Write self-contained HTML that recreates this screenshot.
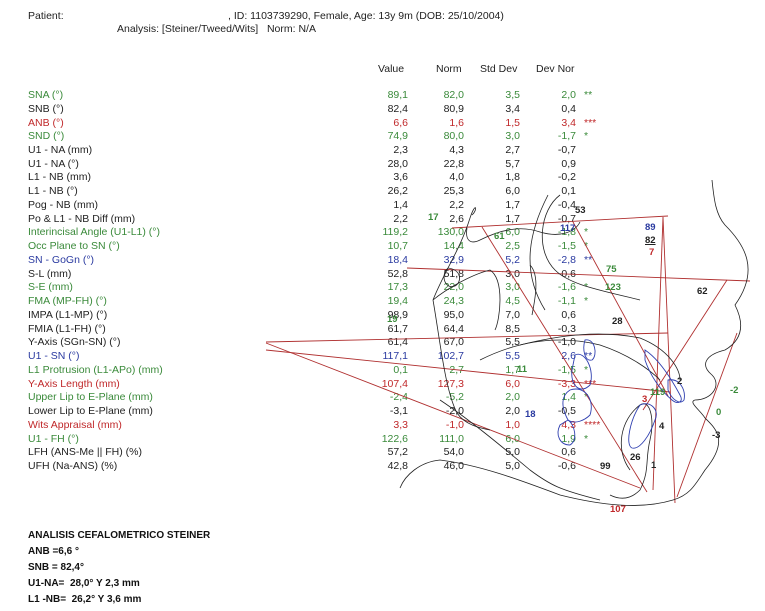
<!DOCTYPE html>
<html><head><meta charset="utf-8"><style>
body{margin:0;width:765px;height:611px;background:#fff;position:relative;overflow:hidden;font-family:"Liberation Sans","DejaVu Sans",sans-serif;font-size:10.5px;color:#222}
.t{position:absolute;white-space:nowrap;line-height:12px}
.r{position:absolute;white-space:nowrap;line-height:12px;text-align:right;width:50px}
.g{color:#3a8a3a}.rd{color:#c0282a}.b{color:#2a3aa0}
.bold{font-weight:bold;font-size:10px;color:#111}
svg{position:absolute;left:0;top:0}
</style></head><body>
<div class="t" style="left:28px;top:10px">Patient:</div>
<div class="t" style="left:228px;top:10px">, ID: 1103739290, Female, Age: 13y 9m (DOB: 25/10/2004)</div>
<div class="t" style="left:117px;top:23px">Analysis: [Steiner/Tweed/Wits]&nbsp;&nbsp;&nbsp;Norm: N/A</div>
<div class="t" style="left:378px;top:63px">Value</div>
<div class="t" style="left:436px;top:63px">Norm</div>
<div class="t" style="left:480px;top:63px">Std Dev</div>
<div class="t" style="left:536px;top:63px">Dev Nor</div>
<div id="rows"></div>
<svg width="765" height="611" viewBox="0 0 765 611" fill="none">
<g stroke="#b03030" stroke-width="0.9">
<line x1="452" y1="228" x2="668" y2="216"/>
<line x1="407" y1="268" x2="750" y2="281"/>
<line x1="266" y1="342" x2="668" y2="333"/>
<line x1="266" y1="350" x2="670" y2="392"/>
<line x1="266" y1="343" x2="640" y2="488"/>
<line x1="482" y1="227" x2="647" y2="492"/>
<line x1="663" y1="217" x2="653" y2="490"/>
<line x1="663" y1="217" x2="675" y2="503"/>
<line x1="573" y1="222" x2="668" y2="396"/>
<line x1="737" y1="333" x2="677" y2="497"/>
<line x1="727" y1="280" x2="643" y2="410"/>
</g>
<g stroke="#222" stroke-width="0.8">
<path d="M712 180 C714 200 716 215 725 225 C745 245 760 270 735 305 C745 325 742 340 725 350 C705 355 700 365 712 375 C722 385 712 400 695 400 C688 402 700 410 705 418 C715 428 730 440 705 470 C695 485 690 495 673 500 C640 510 600 505 560 495 C520 480 480 465 440 460 C420 462 405 475 400 488"/>
<path d="M630 470 C615 450 620 420 640 405 C650 398 655 420 650 440 C645 460 650 470 640 490 C630 500 620 500 610 495"/>
<path d="M560 195 C540 210 535 250 555 270 C570 285 600 290 640 300"/>
<path d="M548 195 C530 230 520 270 545 310"/>
<path d="M472 215 C478 210 476 200 470 218 C460 250 445 270 433 300 C445 290 470 275 490 270"/>
<path d="M433 300 C440 340 445 390 457 413 C465 425 480 428 490 430"/>
<path d="M448 268 C440 275 445 290 455 286 C462 282 462 270 448 268"/>
<path d="M467 228 C465 240 470 245 480 240 C500 230 520 225 540 232 C560 238 575 232 580 222"/>
<path d="M520 345 C560 335 600 330 640 338 C670 350 680 370 680 380"/>
<path d="M530 265 C540 275 535 300 532 315"/>
<path d="M490 270 C505 280 500 320 495 330"/>
<path d="M440 400 C470 420 500 445 530 470 C550 485 560 490 600 500"/>
<path d="M480 360 C520 340 560 335 600 345 C630 355 650 370 660 380"/>
</g>
<g stroke="#3040b0" stroke-width="0.9">
<path d="M645 350 C660 360 672 380 680 395 C684 402 678 405 672 400 C660 390 650 375 645 360 Z"/>
<path d="M668 380 C680 378 686 390 684 400 C680 405 672 400 668 390 Z"/>
<path d="M640 405 C650 400 660 410 655 420 C650 435 640 450 632 448 C625 445 630 420 640 405 Z"/>
<path d="M585 340 C595 338 598 355 592 360 C585 362 582 350 585 340 Z"/>
<path d="M575 355 C585 350 595 370 590 385 C580 395 570 385 572 370 Z"/>
<path d="M570 390 C585 385 595 400 590 415 C585 420 575 425 568 420 C560 405 562 395 570 390 Z"/>
<path d="M568 420 C575 425 578 440 570 445 C560 445 555 435 560 425 Z"/>
</g>
</svg>
<div id="lbl"></div>
<div class="t bold" style="left:28px;top:530px">ANALISIS CEFALOMETRICO STEINER</div>
<div class="t bold" style="left:28px;top:546px">ANB =6,6 °</div>
<div class="t bold" style="left:28px;top:562px">SNB = 82,4°</div>
<div class="t bold" style="left:28px;top:578px">U1-NA= &nbsp;28,0° Y 2,3 mm</div>
<div class="t bold" style="left:28px;top:594px">L1 -NB= &nbsp;26,2° Y 3,6 mm</div>
<script>
var R=[["g","SNA (°)","89,1","82,0","3,5","2,0","**"],["","SNB (°)","82,4","80,9","3,4","0,4",""],["rd","ANB (°)","6,6","1,6","1,5","3,4","***"],["g","SND (°)","74,9","80,0","3,0","-1,7","*"],["","U1 - NA (mm)","2,3","4,3","2,7","-0,7",""],["","U1 - NA (°)","28,0","22,8","5,7","0,9",""],["","L1 - NB (mm)","3,6","4,0","1,8","-0,2",""],["","L1 - NB (°)","26,2","25,3","6,0","0,1",""],["","Pog - NB (mm)","1,4","2,2","1,7","-0,4",""],["","Po &amp; L1 - NB Diff (mm)","2,2","2,6","1,7","-0,7",""],["g","Interincisal Angle (U1-L1) (°)","119,2","130,0","6,0","-1,8","*"],["g","Occ Plane to SN (°)","10,7","14,4","2,5","-1,5","*"],["b","SN - GoGn (°)","18,4","32,9","5,2","-2,8","**"],["","S-L (mm)","52,8","51,8","3,0","0,6",""],["g","S-E (mm)","17,3","22,0","3,0","-1,6","*"],["g","FMA (MP-FH) (°)","19,4","24,3","4,5","-1,1","*"],["","IMPA (L1-MP) (°)","98,9","95,0","7,0","0,6",""],["","FMIA (L1-FH) (°)","61,7","64,4","8,5","-0,3",""],["","Y-Axis (SGn-SN) (°)","61,4","67,0","5,5","-1,0",""],["b","U1 - SN (°)","117,1","102,7","5,5","2,6","**"],["g","L1 Protrusion (L1-APo) (mm)","0,1","2,7","1,7","-1,5","*"],["rd","Y-Axis Length (mm)","107,4","127,3","6,0","-3,3","***"],["g","Upper Lip to E-Plane (mm)","-2,4","-5,2","2,0","1,4","*"],["","Lower Lip to E-Plane (mm)","-3,1","-2,0","2,0","-0,5",""],["rd","Wits Appraisal (mm)","3,3","-1,0","1,0","4,3","****"],["g","U1 - FH (°)","122,6","111,0","6,0","1,9","*"],["","LFH (ANS-Me || FH) (%)","57,2","54,0","5,0","0,6",""],["","UFH (Na-ANS) (%)","42,8","46,0","5,0","-0,6",""]];
var h="";R.forEach(function(r,i){var y=(89+i*13.74).toFixed(1);var c=r[0];
h+='<div class="t '+c+'" style="left:28px;top:'+y+'px">'+r[1]+'</div>';
[[358,2],[414,3],[470,4],[526,5]].forEach(function(p){h+='<div class="r '+c+'" style="left:'+p[0]+'px;top:'+y+'px">'+r[p[1]]+'</div>';});
if(r[6])h+='<div class="t '+c+'" style="left:584px;top:'+y+'px">'+r[6]+'</div>';});
document.getElementById("rows").innerHTML=h;
var L=[["53",575,205,""],["117",560,223,"b"],["89",645,222,"b"],["82",645,235,""],["7",649,247,"rd"],["61",494,231,"g"],["17",428,212,"g"],["75",606,264,"g"],["123",605,282,"g"],["62",697,286,""],["28",612,316,""],["11",517,364,"g"],["2",677,376,""],["-2",730,385,"g"],["119",650,387,"g"],["3",642,394,"rd"],["18",525,409,"b"],["0",716,407,"g"],["4",659,421,""],["-3",712,430,""],["26",630,452,""],["1",651,460,""],["99",600,461,""],["107",610,504,"rd"],["19",387,314,"g"]];
var s="";L.forEach(function(l){s+='<div class="t '+l[3]+'" style="left:'+l[1]+'px;top:'+l[2]+'px;font-weight:bold;font-size:9.5px'+(l[0]=="82"?';text-decoration:underline':'')+'">'+l[0]+'</div>';});
document.getElementById("lbl").innerHTML=s;
</script>
</body></html>
